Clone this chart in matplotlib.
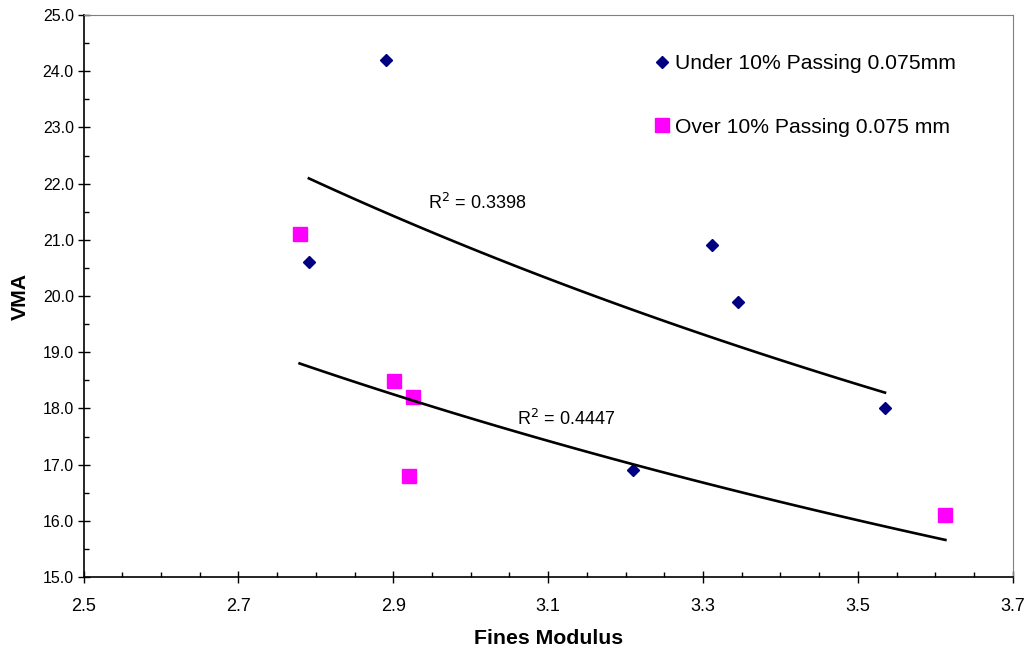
import numpy as np
import matplotlib.pyplot as plt
from matplotlib.ticker import MultipleLocator, FormatStrFormatter

plt.rcParams['font.family'] = ['Liberation Sans', 'DejaVu Sans']

# Under 10% passing 0.075mm
under_fm = [2.891, 2.791, 3.311, 3.345, 3.535, 3.210]
under_vma = [24.2, 20.6, 20.9, 19.9, 18.0, 16.9]

# Over 10% passing 0.075 mm
over_fm = [2.779, 2.901, 2.926, 2.920, 3.612]
over_vma = [21.1, 18.49, 18.2, 16.8, 16.1]

# the lower trendline does not come out of the visible squares alone,
# so its ends are read off the picture
over_trend_fm = [2.779, 3.613]
over_trend_vma = [18.80, 15.66]

r2_labels = ["R$^2$ = 0.3398", "R$^2$ = 0.4447"]
x_ticks = [2.5, 2.7, 2.9, 3.1, 3.3, 3.5, 3.7]


def power_trend(x, y):
    # excel style power trendline: ln(y) = b*ln(x) + ln(a)
    x = np.array(x)
    y = np.array(y)
    b, lna = np.polyfit(np.log(x), np.log(y), 1)
    xs = np.linspace(x.min(), x.max(), 100)
    return xs, np.exp(lna) * xs ** b


fig = plt.figure(figsize=(10.29, 6.52), dpi=100)
ax = fig.add_axes([0.0812, 0.115, 0.903, 0.862])

ax.plot(under_fm, under_vma, 'D', color='#000080', markersize=6, linestyle='none',
        label='Under 10% Passing 0.075mm')
ax.plot(over_fm, over_vma, 's', color='#FF00FF', markersize=10, linestyle='none',
        label='Over 10% Passing 0.075 mm')

xs, ys = power_trend(under_fm, under_vma)
ax.plot(xs, ys, color='black', linewidth=1.9)
xs, ys = power_trend(over_trend_fm, over_trend_vma)
ax.plot(xs, ys, color='black', linewidth=1.9)

ax.text(3.008, 21.48, r2_labels[0], fontsize=13, ha='center', va='bottom')
ax.text(3.123, 17.64, r2_labels[1], fontsize=13, ha='center', va='bottom')

ax.set_xlim(2.5, 3.7)
ax.set_ylim(15.0, 25.0)
ax.set_xticks(x_ticks)
ax.xaxis.set_minor_locator(MultipleLocator(0.05))
ax.yaxis.set_major_locator(MultipleLocator(1.0))
ax.yaxis.set_minor_locator(MultipleLocator(0.5))
ax.xaxis.set_major_formatter(FormatStrFormatter('%.1f'))
ax.yaxis.set_major_formatter(FormatStrFormatter('%.1f'))
ax.tick_params(axis='both', which='major', direction='inout', length=8, width=1)
ax.tick_params(axis='both', which='minor', direction='in', length=3.5, width=1)
ax.tick_params(axis='x', labelsize=13, pad=11)
ax.tick_params(axis='y', labelsize=11.5, pad=3)

for s in ['top', 'right']:
    ax.spines[s].set_color('#808080')
for s in ['left', 'bottom']:
    ax.spines[s].set_linewidth(1.2)

ax.set_xlabel('Fines Modulus', fontsize=15.3, fontweight='bold', labelpad=10)
ax.set_ylabel('VMA', fontsize=15.3, fontweight='bold', labelpad=9)

ax.legend(loc='upper left', bbox_to_anchor=(0.607, 0.945), frameon=False,
          fontsize=15.2, handlelength=0.6, handletextpad=0.3, labelspacing=2.1,
          borderaxespad=0)

fig.savefig('out.png', dpi=100)
